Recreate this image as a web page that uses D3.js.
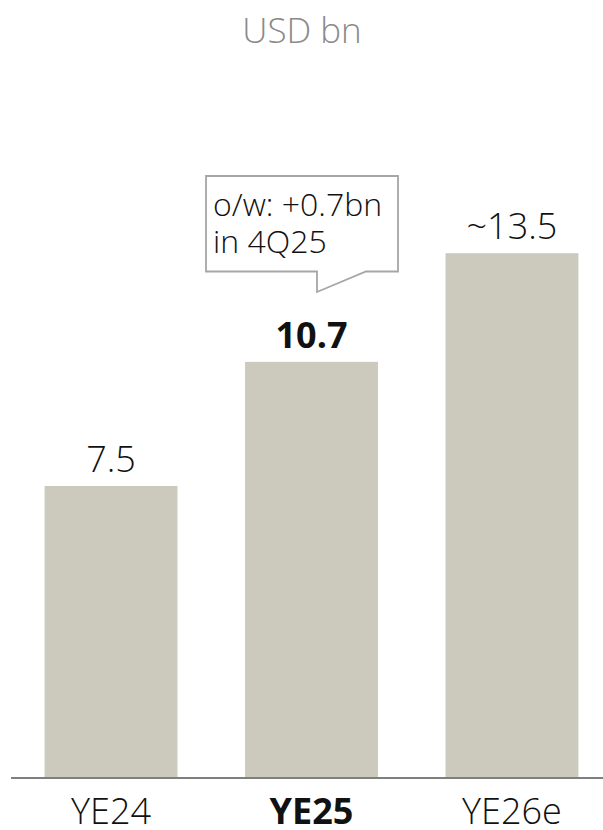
<!DOCTYPE html>
<html>
<head>
<meta charset="utf-8">
<script src="https://cdn.jsdelivr.net/npm/d3@7/dist/d3.min.js"></script>
<style>
  html, body { margin: 0; padding: 0; background: #ffffff; }
  svg { display: block; }
  text { font-family: "Open Sans", "Noto Sans", sans-serif; }
</style>
</head>
<body>
<svg id="chart" width="603" height="830"></svg>
<script>
// Year-end values, USD bn
const categories = ["YE24", "YE25", "YE26e"];
const values = [7.5, 10.7, 13.5];
const valueLabels = ["7.5", "10.7", "~13.5"];
const highlight = "YE25";
const unitLabel = "USD bn";
const noteLines = ["o/w: +0.7bn", "in 4Q25"];

const W = 603, H = 830;
const svg = d3.select("#chart");

const x = d3.scaleBand()
  .domain(categories)
  .range([10.5, 612.5])
  .paddingInner(0.337)
  .paddingOuter(0.17);

const y = d3.scaleLinear()
  .domain([0, 15])
  .range([777, 777 - 15 * 38.8]);

// unit title
svg.append("text")
  .attr("x", 302)
  .attr("y", 43)
  .attr("text-anchor", "middle")
  .attr("font-size", 35)
  .attr("font-weight", 300)
  .attr("fill", "#8a8a8a")
  .text(unitLabel);

// bars
svg.append("g")
  .selectAll("rect")
  .data(categories)
  .join("rect")
  .attr("x", d => x(d))
  .attr("width", x.bandwidth())
  .attr("y", (d, i) => y(values[i]))
  .attr("height", (d, i) => y(0) - y(values[i]))
  .attr("fill", "#cccabd");

// value labels
svg.append("g")
  .selectAll("text")
  .data(categories)
  .join("text")
  .attr("x", d => x(d) + x.bandwidth() / 2)
  .attr("y", (d, i) => y(values[i]) - 14)
  .attr("text-anchor", "middle")
  .attr("font-size", 36)
  .attr("font-weight", d => d === highlight ? 700 : 300)
  .attr("fill", "#111111")
  .text((d, i) => valueLabels[i]);

// baseline axis
const axis = d3.axisBottom(x).tickSize(0).tickPadding(18);
const gAxis = svg.append("g")
  .attr("transform", `translate(0,${y(0) + 1})`)
  .call(axis);
gAxis.select(".domain")
  .attr("d", `M11,0H603`)
  .attr("stroke", "#7f7f7f")
  .attr("stroke-width", 2);
gAxis.selectAll(".tick text")
  .attr("font-size", 36)
  .attr("font-family", "'Open Sans', 'Noto Sans', sans-serif")
  .attr("font-weight", d => d === highlight ? 700 : 300)
  .attr("fill", "#111111")
  .attr("dy", null)
  .attr("y", 46);

// callout above the highlighted bar
const cx = x(highlight) + x.bandwidth() / 2;
const boxL = cx - 105.5, boxR = cx + 86.5, boxT = 176, boxB = 271.5;
const tipX = cx + 5.5, tipY = 292, tailX = cx + 54.5;
svg.append("path")
  .attr("d", `M${boxL},${boxT}H${boxR}V${boxB}H${tailX}L${tipX},${tipY}V${boxB}H${boxL}Z`)
  .attr("fill", "#ffffff")
  .attr("stroke", "#a6a6a6")
  .attr("stroke-width", 1.8);

svg.append("text")
  .attr("x", boxL + 7)
  .attr("y", 216)
  .attr("font-size", 32)
  .attr("font-weight", 300)
  .attr("fill", "#111111")
  .selectAll("tspan")
  .data(noteLines)
  .join("tspan")
  .attr("x", boxL + 7)
  .attr("dy", (d, i) => i === 0 ? 0 : 37)
  .text(d => d);
</script>
</body>
</html>
